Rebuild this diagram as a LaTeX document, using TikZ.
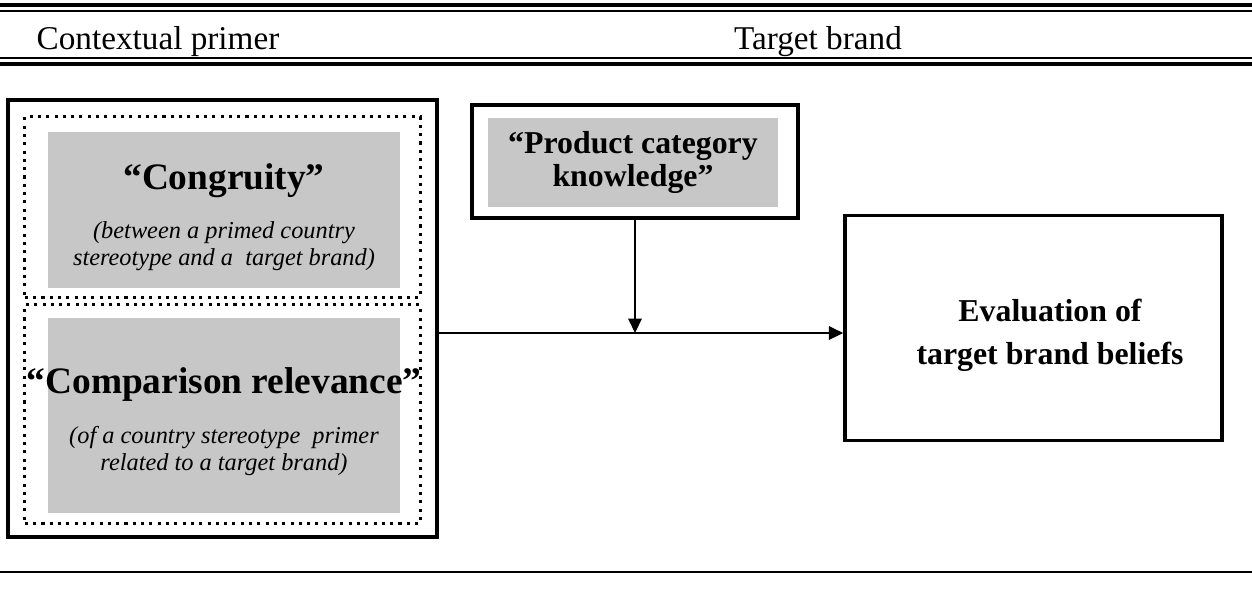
\documentclass[tikz,border=0pt]{standalone}
\usepackage{fontspec}
\setmainfont{Liberation Serif}
\usetikzlibrary{arrows.meta}

\tikzset{
  rule/.style={line width=#1},
  framebox/.style={draw, line width=1.4pt, rectangle, inner sep=0pt},
  dotbox/.style={draw, line width=1.1pt, dash pattern=on 1.1pt off 1.9pt, rectangle, inner sep=0pt},
  greybox/.style={fill=black!22, rectangle, inner sep=0pt, align=center},
  title/.style={font=\fontsize{13.5}{16}\selectfont\bfseries},
  note/.style={font=\fontsize{8.8}{9.7}\selectfont\itshape, align=center},
  arr/.style={line width=0.9pt, -{Triangle[length=5.2pt,width=4.8pt]}}
}

\begin{document}
\begin{tikzpicture}[x=0.127mm, y=-0.127mm]
    \useasboundingbox (0,0) rectangle (1252,589);

    % table rules
    \draw[rule=1.1pt] (0,5) -- (1252,5);
    \draw[rule=0.7pt] (0,11) -- (1252,11);
    \draw[rule=0.7pt] (0,58) -- (1252,58);
    \draw[rule=1.1pt] (0,64) -- (1252,64);
    \draw[rule=0.8pt] (0,572) -- (1252,572);

    \node[font=\fontsize{12}{14}\selectfont] (head1) at (158,42) {Contextual primer};
    \node[font=\fontsize{12}{14}\selectfont] (head2) at (818,42) {Target brand};

    % primer block
    \node[framebox, minimum width=54.5mm, minimum height=55.5mm] (primer) at (222.5,318.5) {};
    \node[dotbox, minimum width=50.2mm, minimum height=22.9mm] (cbox) at (222.5,207) {};
    \node[dotbox, minimum width=50.2mm, minimum height=27.7mm] (rbox) at (222.5,414) {};
    \node[greybox, minimum width=44.7mm, minimum height=19.8mm] (congr) at (224,210) {};
    \node[greybox, minimum width=44.7mm, minimum height=24.8mm] (relev) at (224,415.5) {};

    \node[title] (congrT) at (224,181) {``Congruity''};
    \node[note] (congrN) at (224,246) {(between a primed country\\stereotype and a \ target brand)};
    \node[title] (relevT) at (224,384) {``Comparison relevance''};
    \node[note] (relevN) at (224,451) {(of a country stereotype \ primer\\related to a target brand)};

    % moderator and outcome
    \node[framebox, minimum width=41.4mm, minimum height=14.4mm] (prod) at (635,161.5) {};
    \node[greybox, minimum width=36.8mm, minimum height=11.3mm,
          font=\fontsize{11.5}{12.2}\selectfont\bfseries] (prodT) at (633,162.5)
          {``Product category\\knowledge''};
    \node[draw, line width=1.2pt, minimum width=47.9mm, minimum height=28.6mm] (eval) at (1033.5,328) {};
    \node[align=center, font=\fontsize{11.5}{15.5}\selectfont\bfseries] (evalT) at (1050,335)
          {Evaluation of\\target brand beliefs};

    \coordinate (join) at (prod.south |- 0,333);
    \draw[arr] (primer.east |- join) -- (eval.west |- join);
    \draw[arr] (prod.south) -- (join);
\end{tikzpicture}
\end{document}
